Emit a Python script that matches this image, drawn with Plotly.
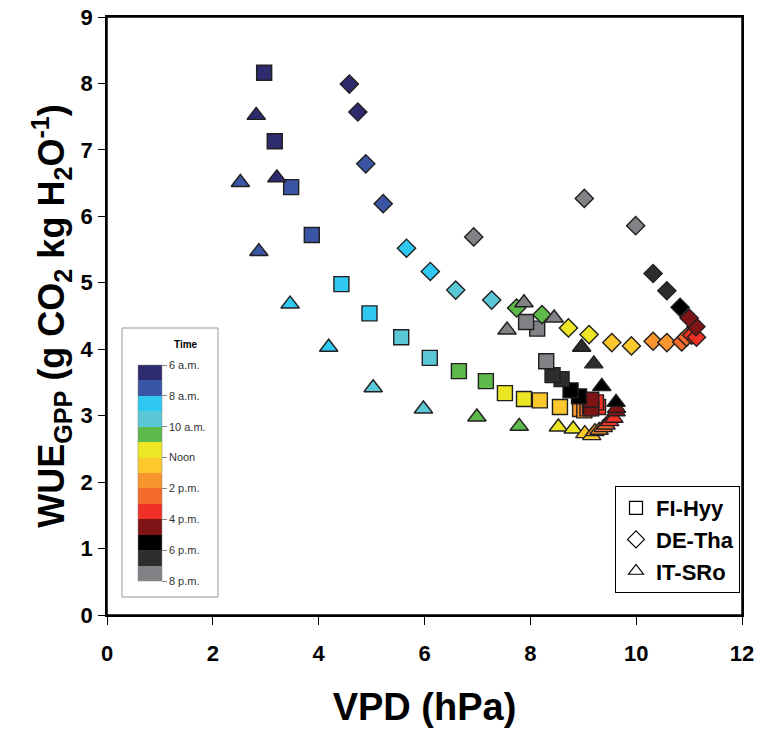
import plotly.graph_objects as go

# ---------------- data ----------------
# FI-Hyy (squares)
fi_vpd = [2.97, 3.17, 3.48, 3.87, 4.43, 4.96, 5.56, 6.10, 6.65, 7.16, 7.52, 7.88, 8.18, 8.56,
          8.94, 9.02, 9.08, 9.13, 9.28, 9.24, 9.15, 9.15, 8.92, 8.76, 8.59, 8.42, 8.30, 8.13, 7.92]
fi_wue = [8.16, 7.13, 6.44, 5.72, 4.98, 4.54, 4.18, 3.87, 3.67, 3.52, 3.34, 3.25, 3.23, 3.13,
          3.10, 3.08, 3.11, 3.14, 3.13, 3.20, 3.11, 3.24, 3.29, 3.38, 3.55, 3.61, 3.82, 4.31, 4.41]
fi_time = [6.25, 6.75, 7.25, 7.75, 8.25, 8.75, 9.25, 9.75, 10.25, 10.75, 11.25, 11.75, 12.25, 12.75,
           13.25, 13.75, 14.25, 14.75, 15.25, 15.75, 16.25, 16.75, 17.25, 17.75, 18.25, 18.75, 19.25, 19.75, 20.25]

# DE-Tha (diamonds)
de_vpd = [4.58, 4.74, 4.89, 5.22, 5.66, 6.11, 6.59, 7.27, 7.74, 8.22, 8.72, 9.11, 9.54, 9.91,
          10.32, 10.58, 10.86, 10.95, 11.05, 11.14, 11.13, 11.00, 10.83, 10.58, 10.32, 9.99, 9.02, 6.93]
de_wue = [7.99, 7.57, 6.79, 6.19, 5.52, 5.17, 4.89, 4.74, 4.62, 4.52, 4.32, 4.22, 4.10, 4.05,
          4.12, 4.10, 4.11, 4.18, 4.21, 4.18, 4.34, 4.47, 4.63, 4.88, 5.14, 5.86, 6.27, 5.69]
de_time = [6.25, 6.75, 7.25, 7.75, 8.25, 8.75, 9.25, 9.75, 10.25, 10.75, 11.25, 11.75, 12.25, 12.75,
           13.25, 13.75, 14.25, 14.75, 15.25, 15.75, 16.25, 16.75, 17.25, 18.25, 18.75, 19.25, 19.75, 20.25]

# IT-SRo (triangles)
it_vpd = [2.82, 3.21, 2.52, 2.87, 3.46, 4.19, 5.03, 5.98, 6.99, 7.79, 8.53, 8.81, 9.03, 9.16,
          9.22, 9.30, 9.38, 9.43, 9.50, 9.58, 9.62, 9.63, 9.62, 9.35, 9.20, 8.97, 8.45, 7.88, 7.56]
it_wue = [7.52, 6.58, 6.51, 5.47, 4.68, 4.03, 3.42, 3.10, 2.98, 2.84, 2.83, 2.80, 2.73, 2.70,
          2.76, 2.78, 2.82, 2.86, 2.91, 2.96, 3.06, 3.11, 3.20, 3.44, 3.78, 4.03, 4.47, 4.70, 4.29]
it_time = [6.25, 6.75, 7.25, 7.75, 8.25, 8.75, 9.25, 9.75, 10.25, 10.75, 11.25, 11.75, 12.25, 12.75,
           13.25, 13.75, 14.25, 14.75, 15.25, 15.75, 16.25, 16.75, 17.25, 17.75, 18.25, 18.75, 19.25, 19.75, 20.25]

# hourly colour classes, 6 a.m. -> 8 p.m.
hour_colors = ["#2e2a6e", "#3a55a4", "#2ec8f0", "#5bc8d8", "#5db94a", "#ece624", "#fcc82c",
               "#f7962f", "#f36c2a", "#ee3124", "#7f1416", "#000000", "#2b2d2f", "#808285"]
time_tick_vals = [6, 8, 10, 12, 14, 16, 18, 20]
time_tick_text = ["6 a.m.", "8 a.m.", "10 a.m.", "Noon", "2 p.m.", "4 p.m.", "6 p.m.", "8 p.m."]

site_names = ["FI-Hyy", "DE-Tha", "IT-SRo"]
x_ticks = [0, 2, 4, 6, 8, 10, 12]
y_ticks = [0, 1, 2, 3, 4, 5, 6, 7, 8, 9]

# ---------------- figure ----------------
t_min, t_max = 6, 20
n = len(hour_colors)
colorscale = []
for k, col in enumerate(reversed(hour_colors)):
    colorscale.append([k / n, col])
    colorscale.append([(k + 1) / n, col])

PLOT_W = 742 - 107
PLOT_H = 615 - 17


def neg(v):
    return [-t for t in v]


outline = dict(color="#231f20", width=1.4)
common_marker = dict(colorscale=colorscale, cmin=-t_max, cmax=-t_min, line=outline)

fig = go.Figure()

fig.add_trace(go.Scatter(
    x=fi_vpd, y=fi_wue, mode="markers", showlegend=False,
    marker=dict(symbol="square", size=15, color=neg(fi_time), showscale=True,
                colorbar=dict(
                    x=(138 - 107) / PLOT_W, xanchor="left",
                    y=(615 - 473) / PLOT_H, yanchor="middle",
                    len=216, lenmode="pixels", thickness=24, thicknessmode="pixels",
                    xpad=0, ypad=0, outlinewidth=0.5, outlinecolor="#888888",
                    tickmode="array", tickvals=[-t for t in time_tick_vals], ticktext=time_tick_text,
                    ticks="outside", ticklen=5, tickcolor="#888888",
                    tickfont=dict(family="Arial, Liberation Sans", size=11, color="#333333"),
                ),
                **common_marker),
))
fig.add_trace(go.Scatter(
    x=de_vpd, y=de_wue, mode="markers", showlegend=False,
    marker=dict(symbol="diamond", size=14, color=neg(de_time), **common_marker),
))
fig.add_trace(go.Scatter(
    x=it_vpd, y=it_wue, mode="markers", showlegend=False,
    marker=dict(symbol="triangle-up", size=16, color=neg(it_time), **common_marker),
))

# legend entries (hollow symbols)
for name, sym in zip(site_names, ["square-open", "diamond-open", "triangle-up-open"]):
    fig.add_trace(go.Scatter(
        x=[None], y=[None], mode="markers", name=name,
        marker=dict(symbol=sym, size=13, color="black", line=dict(width=1.2)),
    ))

axis_font = dict(family="Arial, Liberation Sans", size=22, color="black")

fig.update_layout(
    width=760, height=729,
    margin=dict(l=107, r=18, t=17, b=114, autoexpand=False),
    paper_bgcolor="white", plot_bgcolor="white",
    font=dict(family="Arial, Liberation Sans", color="black"),
    xaxis=dict(
        range=[0, 12], tickmode="array", tickvals=x_ticks,
        ticktext=[f"<b>{v}</b>" for v in x_ticks],
        ticks="outside", ticklen=8, tickwidth=1, tickcolor="black",
        showline=True, linecolor="black", linewidth=1.5, mirror=True,
        showgrid=False, zeroline=False, tickfont=axis_font, ticklabelstandoff=10,
        title=dict(text="<b>VPD (hPa)</b>", font=dict(family="Arial, Liberation Sans", size=38),
                   standoff=28),
    ),
    yaxis=dict(
        range=[0, 9], tickmode="array", tickvals=y_ticks,
        ticktext=[f"<b>{v}</b>" for v in y_ticks],
        ticks="outside", ticklen=7, tickwidth=1, tickcolor="black",
        showline=True, linecolor="black", linewidth=1.5, mirror=True,
        showgrid=False, zeroline=False, tickfont=axis_font, ticklabelstandoff=1,
        title=dict(text="<b>WUE<sub>GPP</sub> (g CO<sub>2</sub> kg H<sub>2</sub>O<sup>-1</sup>)</b>",
                   font=dict(family="Arial, Liberation Sans", size=36), standoff=5),
    ),
    legend=dict(
        x=(740 - 107) / PLOT_W, xanchor="right", y=(615 - 593) / PLOT_H, yanchor="bottom",
        bgcolor="white", bordercolor="black", borderwidth=1,
        font=dict(family="Arial, Liberation Sans", size=22, color="black", weight="bold"),
        itemwidth=30, tracegroupgap=0,
    ),
    shapes=[
        # plot frame
        dict(type="rect", xref="paper", yref="paper", layer="above",
             x0=0, x1=1, y0=0, y1=1, line=dict(color="black", width=1.5)),
        # box around the time colour key
        dict(type="rect", xref="paper", yref="paper", layer="above",
             x0=(122 - 107) / PLOT_W, x1=(218 - 107) / PLOT_W,
             y0=(615 - 597) / PLOT_H, y1=(615 - 328) / PLOT_H,
             line=dict(color="#999999", width=1), fillcolor="white"),
    ],
    annotations=[dict(
        text="<b>Time</b>", xref="paper", yref="paper",
        x=(172 - 107) / PLOT_W, y=(615 - 344) / PLOT_H, showarrow=False,
        font=dict(family="Arial, Liberation Sans", size=10, color="black"),
    )],
)

# remove the default 8px page margin so the figure sits at the window's top-left corner
fig.write_html("out.html", config={"displayModeBar": False},
               post_script="document.body.style.margin='0px';document.body.style.overflow='hidden';")
